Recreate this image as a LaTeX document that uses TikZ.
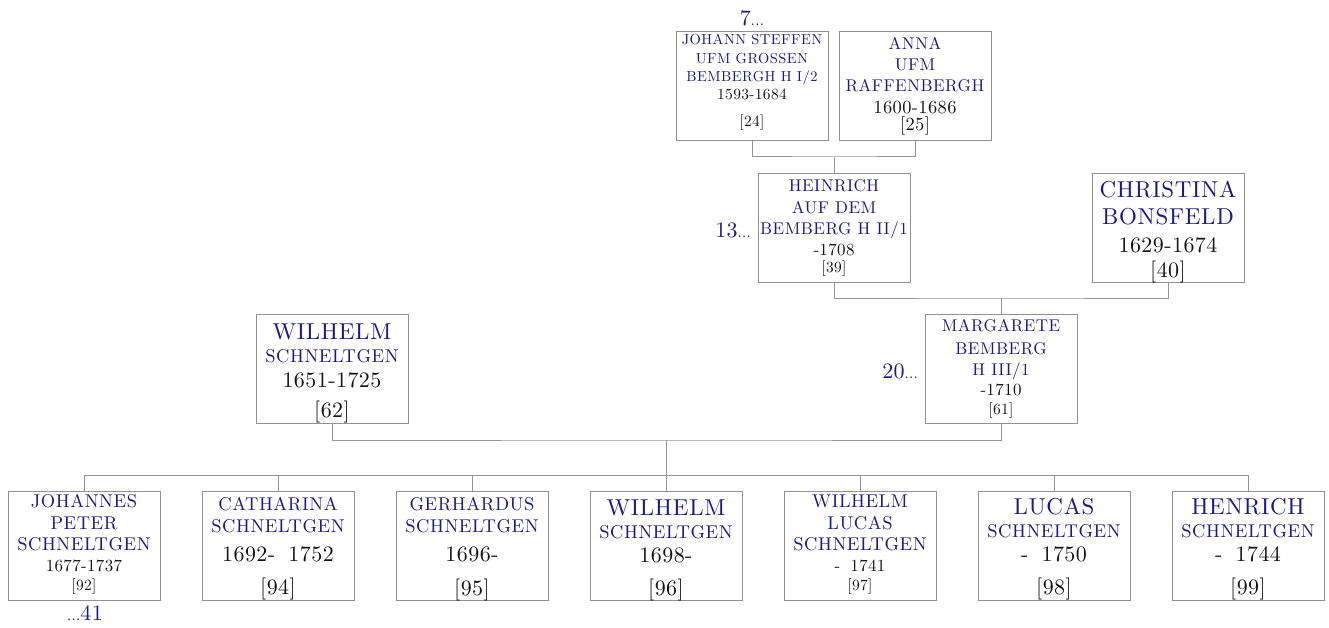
\documentclass[tikz,border=0pt]{standalone}
\usepackage{fontspec}
\setmainfont{lmroman10-regular.otf}
\newfontfamily\namefont{lmroman10-regular.otf}[LetterSpace=3]
\newfontfamily\datefont{lmroman10-regular.otf}[LetterSpace=2]
\definecolor{nameblue}{RGB}{26,26,140}
\definecolor{boxgray}{RGB}{145,145,145}
\definecolor{linegray}{RGB}{150,150,150}
\definecolor{txtblack}{RGB}{20,20,20}
\newcommand\mytl[5]{\node[#4,anchor=base,inner sep=0pt] (#1) at (#2,#3) {#5};}
\newcommand\mydots{{\color{txtblack}\fontsize{15}{15}\selectfont...}}
\tikzset{
  pbox/.style={draw=boxgray,line width=1pt,minimum width=152pt,minimum height=109pt,inner sep=0pt,fill=white},
  conn/.style={draw=linegray,line width=1pt},
  nmL/.style={font=\namefont\fontsize{23}{23}\selectfont,text=nameblue},
  nmM/.style={font=\namefont\fontsize{18.5}{18.5}\selectfont,text=nameblue},
  nmMs/.style={font=\namefont\fontsize{17}{17}\selectfont,text=nameblue},
  nmS/.style={font=\namefont\fontsize{14.5}{14.5}\selectfont,text=nameblue},
  dtL/.style={font=\datefont\fontsize{22}{22}\selectfont,text=txtblack},
  dtM/.style={font=\datefont\fontsize{18.5}{18.5}\selectfont,text=txtblack},
  dtS/.style={font=\datefont\fontsize{17}{17}\selectfont,text=txtblack},
  dtXS/.style={font=\datefont\fontsize{15.5}{15.5}\selectfont,text=txtblack},
  ann/.style={font=\datefont\fontsize{22}{22}\selectfont,text=nameblue},
}
\begin{document}
\begin{tikzpicture}[x=1pt,y=-1pt]
\useasboundingbox (0,0) rectangle (1329,628);
% boxes
\node[pbox] (b24) at (752,86.5) {};
\node[pbox] (b25) at (915,86.5) {};
\node[pbox] (b39) at (834,228) {};
\node[pbox] (b40) at (1168,228) {};
\node[pbox] (b62) at (332,369) {};
\node[pbox] (b61) at (1001,369) {};
\node[pbox] (b92) at (84,545.5) {};
\node[pbox] (b94) at (278,545.5) {};
\node[pbox] (b95) at (472,545.5) {};
\node[pbox] (b96) at (666,545.5) {};
\node[pbox] (b97) at (860,545.5) {};
\node[pbox] (b98) at (1054,545.5) {};
\node[pbox] (b99) at (1248,545.5) {};
% connectors
\coordinate (m1) at (834,157);
\coordinate (m2) at (1001,298);
\coordinate (m3) at (666.5,440);
\coordinate (bus) at (666.5,475);
\draw[conn] (b24.south) |- (m1) -| (b25.south);
\draw[conn] (m1) -- (b39.north);
\draw[conn] (b39.south) |- (m2) -| (b40.south);
\draw[conn] (m2) -- (b61.north);
\draw[conn] (b62.south) |- (m3) -| (b61.south);
\draw[conn] (m3) -- (bus);
\foreach \c in {b92,b94,b95,b96,b97,b98,b99}{\draw[conn] (bus) -| (\c.north);}
% Johann
\mytl{a7}{752}{26}{ann}{7\mydots}
\mytl{t24a}{752}{44.3}{nmS}{JOHANN STEFFEN}
\mytl{t24b}{752}{63.3}{nmS}{UFM GROSSEN}
\mytl{t24c}{752}{81.7}{nmS}{BEMBERGH H I/2}
\mytl{t24d}{752}{100}{dtXS}{1593-1684}
\mytl{t24e}{752}{127}{dtXS}{[24]}
% Anna
\mytl{t25a}{915}{50}{nmMs}{ANNA}
\mytl{t25b}{915}{71}{nmMs}{UFM}
\mytl{t25c}{915}{92}{nmMs}{RAFFENBERGH}
\mytl{t25d}{915}{113.5}{dtM}{1600-1686}
\mytl{t25e}{915}{131}{dtM}{[25]}
% Heinrich
\node[ann,anchor=base east,inner sep=0pt] (a13) at (751,237.7) {13\mydots};
\mytl{t39a}{834}{191.7}{nmMs}{HEINRICH}
\mytl{t39b}{834}{213.3}{nmMs}{AUF DEM}
\mytl{t39c}{834}{234}{nmMs}{BEMBERG H II/1}
\mytl{t39d}{834}{255}{dtS}{-1708}
\mytl{t39e}{834}{272.3}{dtXS}{[39]}
% Christina
\mytl{t40a}{1168}{197.3}{nmL}{CHRISTINA}
\mytl{t40b}{1168}{225}{nmL}{BONSFELD}
\mytl{t40c}{1168}{252.3}{dtL}{1629-1674}
\mytl{t40d}{1168}{277.3}{dtL}{[40]}
% Wilhelm 62
\mytl{t62a}{332}{339}{nmL}{WILHELM}
\mytl{t62b}{332}{362.3}{nmM}{SCHNELTGEN}
\mytl{t62c}{332}{387.3}{dtL}{1651-1725}
\mytl{t62d}{332}{417}{dtL}{[62]}
% Margarete
\node[ann,anchor=base east,inner sep=0pt] (a20) at (918,378) {20\mydots};
\mytl{t61a}{1001}{331.7}{nmMs}{MARGARETE}
\mytl{t61b}{1001}{354}{nmMs}{BEMBERG}
\mytl{t61c}{1001}{375}{nmMs}{H III/1}
\mytl{t61d}{1001}{395}{dtS}{-1710}
\mytl{t61e}{1001}{414}{dtXS}{[61]}
% Johannes
\mytl{t92a}{84}{507.7}{nmM}{JOHANNES}
\mytl{t92b}{84}{529}{nmM}{PETER}
\mytl{t92c}{84}{550.7}{nmM}{SCHNELTGEN}
\mytl{t92d}{84}{571.7}{dtS}{1677-1737}
\mytl{t92e}{84}{590}{dtXS}{[92]}
\mytl{a41}{85}{620}{ann}{\mydots 41}
% Catharina
\mytl{t94a}{278}{510.7}{nmM}{CATHARINA}
\mytl{t94b}{278}{532.3}{nmM}{SCHNELTGEN}
\mytl{t94c}{278}{561.7}{dtL}{1692-\hspace{0.6em}1752}
\mytl{t94d}{278}{594}{dtL}{[94]}
% Gerhardus
\mytl{t95a}{472}{510.7}{nmM}{GERHARDUS}
\mytl{t95b}{472}{532.3}{nmM}{SCHNELTGEN}
\mytl{t95c}{472}{561}{dtL}{1696-}
\mytl{t95d}{472}{595}{dtL}{[95]}
% Wilhelm 96
\mytl{t96a}{666}{515}{nmL}{WILHELM}
\mytl{t96b}{666}{538.3}{nmM}{SCHNELTGEN}
\mytl{t96c}{666}{562.7}{dtL}{1698-}
\mytl{t96d}{666}{595}{dtL}{[96]}
% Wilhelm Lucas
\mytl{t97a}{860}{507.3}{nmM}{WILHELM}
\mytl{t97b}{860}{529}{nmM}{LUCAS}
\mytl{t97c}{860}{550.7}{nmM}{SCHNELTGEN}
\mytl{t97d}{860}{571.7}{dtS}{-\hspace{0.6em}1741}
\mytl{t97e}{860}{590}{dtXS}{[97]}
% Lucas
\mytl{t98a}{1054}{514}{nmL}{LUCAS}
\mytl{t98b}{1054}{537.3}{nmM}{SCHNELTGEN}
\mytl{t98c}{1054}{561.7}{dtL}{-\hspace{0.6em}1750}
\mytl{t98d}{1054}{594}{dtL}{[98]}
% Henrich
\mytl{t99a}{1248}{514}{nmL}{HENRICH}
\mytl{t99b}{1248}{537.3}{nmM}{SCHNELTGEN}
\mytl{t99c}{1248}{561.7}{dtL}{-\hspace{0.6em}1744}
\mytl{t99d}{1248}{594}{dtL}{[99]}
\end{tikzpicture}
\end{document}
